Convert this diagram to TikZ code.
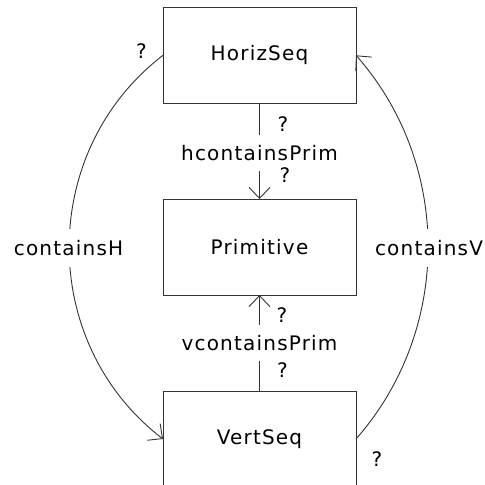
\documentclass[tikz,border=0pt]{standalone}
\usepackage{fontspec}
\setmainfont{DejaVu Sans}[LetterSpace=6]
\usetikzlibrary{arrows.meta,calc}
\begin{document}
\begin{tikzpicture}[x=1pt,y=-1pt,
  every node/.style={font=\fontsize{20}{24}\selectfont, inner sep=0pt, outer sep=0pt},
  classbox/.style={draw=black!80, line width=0.9pt, minimum width=193pt, minimum height=96pt},
  conn/.style={draw=black!80, line width=0.9pt, -{Straight Barb[length=11pt,width=21pt]}},
  role/.style={fill=white, inner xsep=3pt, inner ysep=10pt}]
\fill[white] (0,0) rectangle (485,485);
\useasboundingbox (0,0) rectangle (485,485);
\node[classbox] (H) at (259.5,55.3) {HorizSeq};
\node[classbox] (P) at (259.5,247) {Primitive};
\node[classbox] (V) at (259.5,439) {VertSeq};
% vertical associations
\draw[conn] (H) -- node[role, pos=0.52] (hl) {hcontainsPrim} (P);
\draw[conn] (V) -- node[role] (vl) {vcontainsPrim} (P);
% curved associations
\draw[conn] (H.west) .. controls ($(H.west)+(-125,96)$) and ($(V.west)+(-125,-96)$) .. (V.west);
\draw[conn] (V.east) .. controls ($(V.east)+(96,-109)$) and ($(H.east)+(96,109)$) .. (H.east);
\node[role, inner ysep=11pt] (ch) at (68.5,248) {containsH};
\node[role, inner ysep=11pt] (cv) at (429,248) {containsV};
% multiplicities
\node (q1) at (141.5,51.5) {?};
\node (q2) at (283,124.5) {?};
\node (q3) at (285,175.5) {?};
\node (q4) at (282,315.5) {?};
\node (q5) at (282.5,370) {?};
\node (q6) at (377,459) {?};
\end{tikzpicture}
\end{document}
